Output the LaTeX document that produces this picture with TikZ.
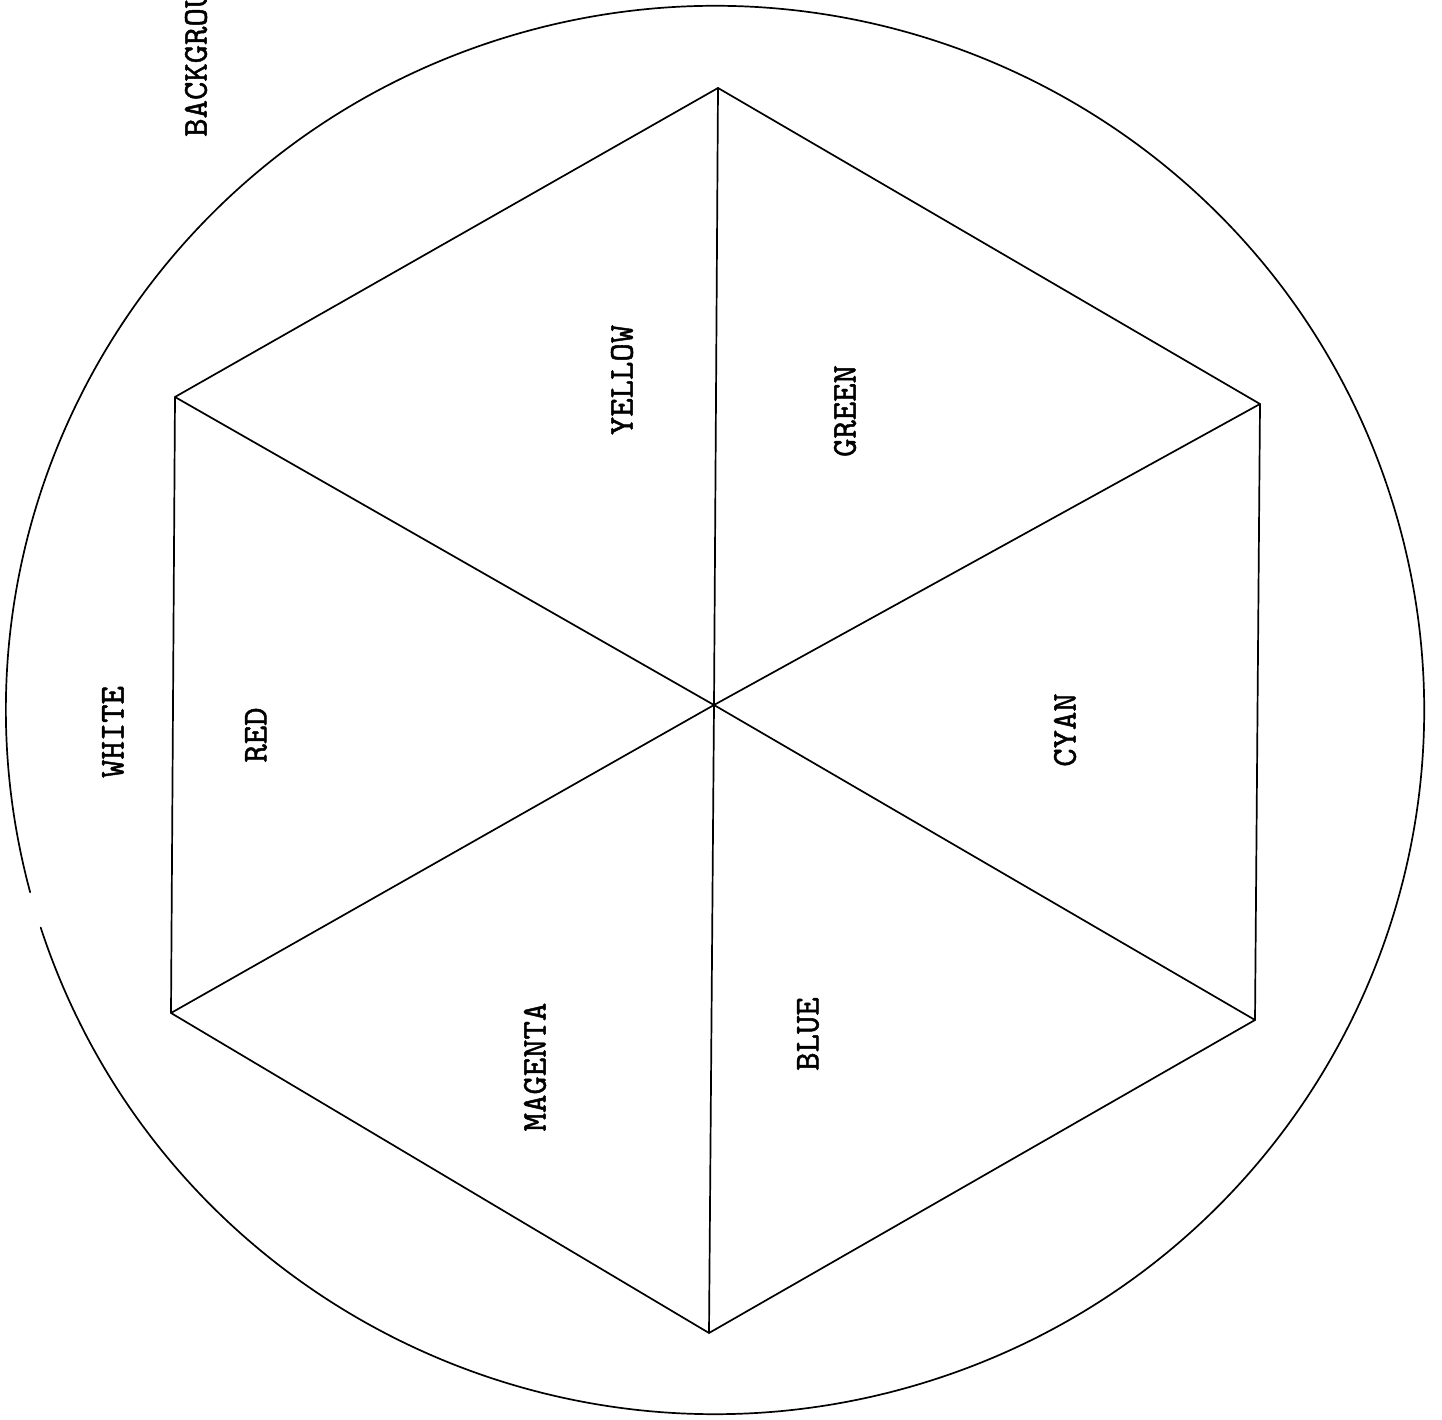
\documentclass[tikz,border=0pt]{standalone}
\usepackage{fontspec}
\newfontfamily\labfont{lmmono10-regular.otf}[FakeBold=1.3]
\begin{document}
\begin{tikzpicture}[x=1pt,y=1pt,
  edge/.style={line width=1.7pt, line join=round, line cap=round},
  lab/.style={font=\labfont\fontsize{35}{35}\selectfont, rotate=90, inner sep=0pt}]
\useasboundingbox (0,0) rectangle (1442,1419);
% outer circle with a small gap on the left
\coordinate (C) at (715,709);
\draw[edge] ([shift={(198:709 and 704)}]C) arc[start angle=198, end angle=555, x radius=709, y radius=704];
% hexagon corners and centre
\coordinate (T) at (718,1331);
\coordinate (UR) at (1260,1015);
\coordinate (LR) at (1255,399);
\coordinate (B) at (709,86);
\coordinate (LL) at (171,406);
\coordinate (UL) at (175,1022);
\coordinate (O) at (714,714);
\draw[edge] (T) -- (UR) -- (LR) -- (B) -- (LL) -- (UL) -- cycle;
\draw[edge] (T) -- (O) -- (B);
\draw[edge] (UL) -- (O) -- (LR);
\draw[edge] (UR) -- (O) -- (LL);
% labels
\node[lab, anchor=west] (bg) at (196,1282) {BACKGROU};
\node[lab] (yellow) at (622,1039) {YELLOW};
\node[lab] (green) at (845,1008) {GREEN};
\node[lab] (white) at (113,687) {WHITE};
\node[lab] (red) at (256,684) {RED};
\node[lab] (cyan) at (1065,689) {CYAN};
\node[lab] (magenta) at (535,352) {MAGENTA};
\node[lab] (blue) at (808,385) {BLUE};
\end{tikzpicture}
\end{document}
